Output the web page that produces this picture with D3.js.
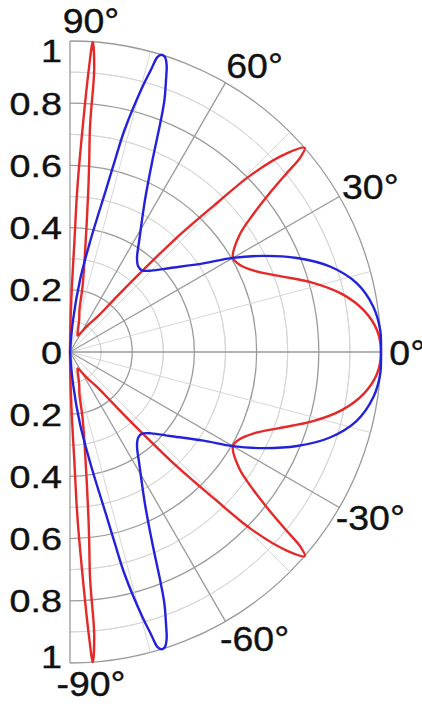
<!DOCTYPE html>
<html>
<head>
<meta charset="utf-8">
<script src="https://cdn.jsdelivr.net/npm/d3@7"></script>
<style>
  html, body { margin: 0; padding: 0; background: #fff; }
  svg text { font-family: "Liberation Sans", Arial, sans-serif; fill: #111; stroke: #111; stroke-width: 0.4; }
</style>
</head>
<body>
<div id="container"></div>
<script>
const w = 422;
const h = 709;
const cx = 70;
const cy = 352;
const R = 311;

// red curve: angle (deg) and normalised radius
const redAngles = [-90, -89.2, -88.3, -87.7, -87.5, -87.2, -86.6, -86.2, -85.8, -85.1, -85.0, -84.9, -84.2, -83.6, -82.2, -79.3, -77.3, -74, -70, -65, -60, -56, -52, -50, -48.5, -47, -45.5, -44.3, -42.5, -41, -40.2, -39.5, -38.5, -37, -34.5, -30, -27, -24, -20, -16, -12, -8, -4,
  0, 4, 8, 12, 16, 20, 24, 27, 30, 34.5, 37, 38.5, 39.5, 40.2, 41, 42.5, 44.3, 45.5, 47, 48.5, 50, 52, 56, 60, 65, 70, 74, 77.3, 79.3, 82.2, 83.6, 84.2, 84.9, 85.0, 85.1, 85.8, 86.2, 86.6, 87.2, 87.5, 87.7, 88.3, 89.2, 90];
const redRadii = [0, 0.08, 0.216, 0.36, 0.5, 0.6, 0.78, 0.91, 1.0, 0.91, 0.78, 0.72, 0.61, 0.53, 0.38, 0.22, 0.138, 0.107, 0.075, 0.058, 0.075, 0.105, 0.145, 0.22, 0.33, 0.5, 0.66, 0.82, 0.945, 1.0, 0.97, 0.9, 0.82, 0.74, 0.66, 0.605, 0.615, 0.645, 0.715, 0.81, 0.895, 0.955, 0.99,
  1.0, 0.99, 0.955, 0.895, 0.81, 0.715, 0.645, 0.615, 0.605, 0.66, 0.74, 0.82, 0.9, 0.97, 1.0, 0.945, 0.82, 0.66, 0.5, 0.33, 0.22, 0.145, 0.105, 0.075, 0.058, 0.075, 0.107, 0.138, 0.22, 0.38, 0.53, 0.61, 0.72, 0.78, 0.91, 1.0, 0.91, 0.78, 0.6, 0.5, 0.36, 0.216, 0.08, 0];

// blue curve
const blueAngles = [-90, -84.6, -82.1, -79.6, -77.5, -76.8, -76.2, -74.7, -74.0, -73.75, -73.5, -72.9, -72.2, -71.4, -70.55, -69.45, -68.6, -66.75, -63.75, -58.25, -54.5, -51.5, -48.6, -45, -40, -33.6, -30, -26.4, -22.5, -18.2, -13.5, -8.5, -4,
  0, 4, 8.5, 13.5, 18.2, 22.5, 26.4, 30, 33.6, 40, 45, 48.6, 51.5, 54.5, 58.25, 63.75, 66.75, 68.6, 69.45, 70.55, 71.4, 72.2, 72.9, 73.5, 73.75, 74.0, 74.7, 76.2, 76.8, 77.5, 79.6, 82.1, 84.6, 90];
const blueRadii = [0, 0.103, 0.234, 0.366, 0.534, 0.634, 0.735, 0.885, 0.943, 0.971, 0.989, 1.0, 0.997, 0.974, 0.927, 0.865, 0.801, 0.672, 0.545, 0.4235, 0.371, 0.352, 0.35, 0.37, 0.42, 0.515, 0.605, 0.695, 0.79, 0.88, 0.948, 0.986, 1.0,
  1.0, 1.0, 0.986, 0.948, 0.88, 0.79, 0.695, 0.605, 0.515, 0.42, 0.37, 0.35, 0.352, 0.371, 0.4235, 0.545, 0.672, 0.801, 0.865, 0.927, 0.974, 0.997, 1.0, 0.989, 0.971, 0.943, 0.885, 0.735, 0.634, 0.534, 0.366, 0.234, 0.103, 0];

const ringTicks = [0.1, 0.2, 0.3, 0.4, 0.5, 0.6, 0.7, 0.8, 0.9, 1.0];
const spokeTicks = [-90, -75, -60, -45, -30, -15, 0, 15, 30, 45, 60, 75, 90];
const radialLabels = [1, 0.8, 0.6, 0.4, 0.2, 0, -0.2, -0.4, -0.6, -0.8, -1];
const angleLabels = [90, 60, 30, 0, -30, -60, -90];

const svg = d3.select("#container").append("svg")
              .attr("width", w).attr("height", h);

const rScale = d3.scaleLinear().domain([0, 1]).range([0, R]);
// degrees counter-clockwise from east -> d3 radians clockwise from north
const aScale = d3.scaleLinear().domain([90, -90]).range([0, Math.PI]);

const g = svg.append("g").attr("transform", "translate(" + cx + "," + cy + ")");

const isMajorRing = (d) => Math.round(d * 10) % 2 === 0;
const isMajorSpoke = (d) => d % 30 === 0;

// rings
const arc = d3.arc().startAngle(0).endAngle(Math.PI);
g.selectAll(".ring").data(ringTicks).enter().append("path")
  .attr("class", "ring")
  .attr("d", (d) => arc({innerRadius: rScale(d), outerRadius: rScale(d)}))
  .attr("fill", "none")
  .attr("stroke", (d) => isMajorRing(d) ? "#9a9a9a" : "#d6d6d6")
  .attr("stroke-width", (d) => isMajorRing(d) ? 1.3 : 1);

// spokes
const polar = (deg, r) => [rScale(r) * Math.sin(aScale(deg)), -rScale(r) * Math.cos(aScale(deg))];
g.selectAll(".spoke").data(spokeTicks.slice().sort((a, b) => isMajorSpoke(a) - isMajorSpoke(b))).enter().append("line")
  .attr("class", "spoke")
  .attr("x1", 0).attr("y1", 0)
  .attr("x2", (d) => polar(d, 1)[0])
  .attr("y2", (d) => polar(d, 1)[1])
  .attr("stroke", (d) => isMajorSpoke(d) ? "#9a9a9a" : "#d6d6d6")
  .attr("stroke-width", (d) => isMajorSpoke(d) ? 1.3 : 1);

// curves
const radial = d3.lineRadial()
  .angle((d) => aScale(d[0]))
  .radius((d) => rScale(d[1]))
  .curve(d3.curveCatmullRom.alpha(0.5));

const series = [
  {color: "#e52828", pts: redAngles.map((a, i) => [a, redRadii[i]])},
  {color: "#2222dc", pts: blueAngles.map((a, i) => [a, blueRadii[i]])}
];
g.selectAll(".curve").data(series).enter().append("path")
  .attr("class", "curve")
  .attr("d", (d) => radial(d.pts))
  .attr("fill", "none")
  .attr("stroke", (d) => d.color)
  .attr("stroke-width", 2.4)
  .attr("stroke-linejoin", "round");

// radial tick labels on the left
const rl = svg.append("g");
rl.selectAll("g").data(radialLabels).enter().append("g")
  .attr("transform", (d) => {
    let y = cy - rScale(d);
    if (d === 1) y += 9;
    if (d === -1) y -= 7;
    return "translate(" + (cx - 8) + "," + y + ")";
  })
  .append("text")
  .attr("transform", "scale(1.18,1)")
  .attr("text-anchor", "end")
  .attr("dy", "0.36em")
  .attr("font-size", 32)
  .text((d) => d3.format("")(Math.abs(d)));

// angle labels
const al = svg.append("g");
al.selectAll("g").data(angleLabels).enter().append("g")
  .attr("transform", (d) => {
    const p = polar(d, 1.065);
    const dx = 6 + 15 * Math.abs(Math.sin(d * Math.PI / 180));
    return "translate(" + (cx + p[0] + dx) + "," + (cy + p[1]) + ")";
  })
  .append("text")
  .attr("transform", "scale(1.07,1)")
  .attr("text-anchor", "middle")
  .attr("dy", "0.36em")
  .attr("font-size", 35)
  .text((d) => d + "°");
</script>
</body>
</html>
